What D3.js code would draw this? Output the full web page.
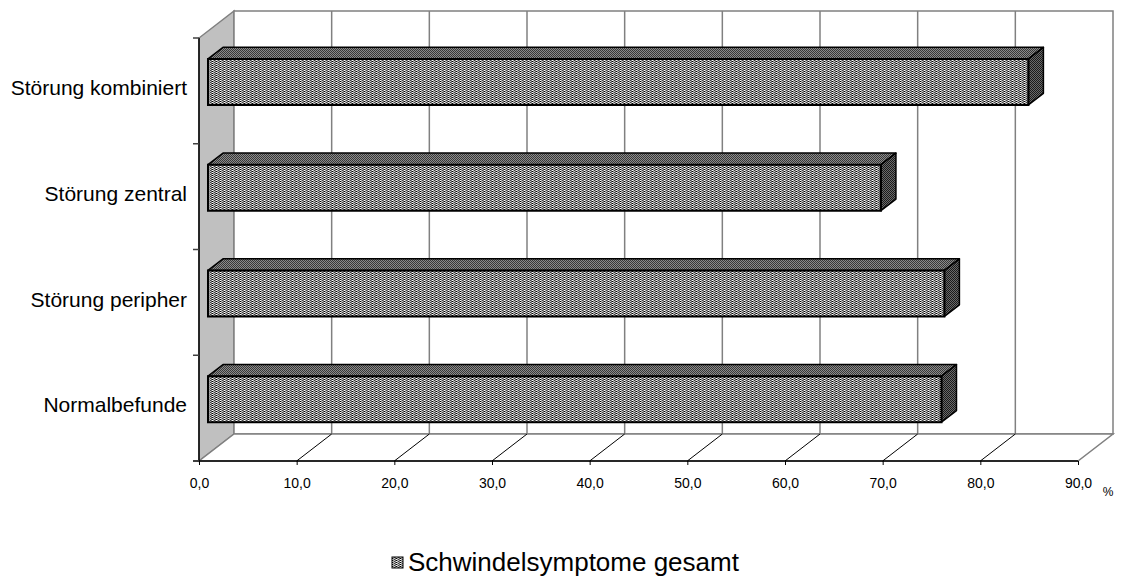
<!DOCTYPE html>
<html>
<head>
<meta charset="utf-8">
<script src="https://cdn.jsdelivr.net/npm/d3@7"></script>
<style>
  html, body { margin: 0; padding: 0; background: #fff; }
  svg { display: block; font-family: "Liberation Sans", Arial, sans-serif; }
</style>
</head>
<body>
<svg id="chart" width="1121" height="581"></svg>
<script>
// Data
const categories = ["Störung kombiniert", "Störung zentral", "Störung peripher", "Normalbefunde"];
const values = [84.0, 68.9, 75.4, 75.1];
const tickValues = [0, 10, 20, 30, 40, 50, 60, 70, 80, 90];
const tickLabels = ["0,0", "10,0", "20,0", "30,0", "40,0", "50,0", "60,0", "70,0", "80,0", "90,0"];
const seriesName = "Schwindelsymptome gesamt";
const unitLabel = "%";

const svg = d3.select("#chart");

// Front plane scales; depth is applied as an oblique offset
const x = d3.scaleLinear().domain([0, 90]).range([199, 1078]);
const y = d3.scaleBand().domain(categories).range([38, 461]).padding(0);
const DX = 35, DY = -27;            // full depth offset
const Z0 = 0.257, Z1 = 0.686;       // bar depth span
const P = (v, yy, z) => [x(v) + z * DX, yy + z * DY];

const gridGrey = "#808080";

// Fill patterns for the bar faces
const defs = svg.append("defs");
function pattern(id, w, h, bg, pixels) {
  const p = defs.append("pattern").attr("id", id).attr("patternUnits", "userSpaceOnUse")
    .attr("width", w).attr("height", h);
  p.append("rect").attr("width", w).attr("height", h).attr("fill", bg);
  pixels.forEach(([px, py, c]) => p.append("rect").attr("x", px).attr("y", py)
    .attr("width", 1).attr("height", 1).attr("fill", c));
}
pattern("front", 4, 2, "#8c8c8c", [[0, 0, "#ffffff"], [0, 1, "#000000"], [2, 0, "#404040"], [2, 1, "#c8c8c8"], [1, 0, "#a8a8a8"], [3, 1, "#606060"]]);
pattern("top", 2, 2, "#8a8a8a", [[0, 0, "#383838"], [1, 1, "#383838"]]);
pattern("side", 2, 2, "#6a6a6a", [[0, 0, "#1a1a1a"], [1, 1, "#1a1a1a"]]);

const line = d3.line();

// Side wall
svg.append("path")
  .attr("d", line([P(0, 38, 0), P(0, 461, 0), P(0, 461, 1), P(0, 38, 1)]) + "Z")
  .attr("fill", "#c0c0c0").attr("stroke", gridGrey).attr("stroke-width", 1.5);

// Back wall
svg.append("path")
  .attr("d", line([P(0, 38, 1), P(90, 38, 1), P(90, 461, 1), P(0, 461, 1)]) + "Z")
  .attr("fill", "#ffffff").attr("stroke", gridGrey).attr("stroke-width", 1.5);

// Floor
svg.append("path")
  .attr("d", line([P(0, 461, 0), P(90, 461, 0), P(90, 461, 1), P(0, 461, 1)]) + "Z")
  .attr("fill", "#ffffff").attr("stroke", gridGrey).attr("stroke-width", 1.5);

// Back wall gridlines
svg.append("g").selectAll("line").data(tickValues.slice(1, -1)).join("line")
  .attr("x1", d => P(d, 38, 1)[0]).attr("x2", d => P(d, 461, 1)[0])
  .attr("y1", d => P(d, 38, 1)[1]).attr("y2", d => P(d, 461, 1)[1])
  .attr("stroke", gridGrey).attr("stroke-width", 1.5);

// Floor gridlines
svg.append("g").selectAll("line").data(tickValues.slice(1, -1)).join("line")
  .attr("x1", d => P(d, 461, 0)[0]).attr("x2", d => P(d, 461, 1)[0])
  .attr("y1", d => P(d, 461, 0)[1]).attr("y2", d => P(d, 461, 1)[1])
  .attr("stroke", "#000").attr("stroke-width", 1);

// Bars
const barH = y.step() * 0.435;
const bars = svg.append("g").selectAll("g").data(categories).join("g");
bars.each(function (c, i) {
  const g = d3.select(this);
  const v = values[i];
  const cy = y(c) + y.bandwidth() / 2 - 2;
  const t = cy - barH / 2, b = cy + barH / 2;
  g.append("path")
    .attr("d", line([P(0, t, Z0), P(v, t, Z0), P(v, t, Z1), P(0, t, Z1)]) + "Z")
    .attr("fill", "url(#top)").attr("stroke", "#000").attr("stroke-width", 1.5).attr("stroke-linejoin", "round");
  g.append("path")
    .attr("d", line([P(v, t, Z0), P(v, b, Z0), P(v, b, Z1), P(v, t, Z1)]) + "Z")
    .attr("fill", "url(#side)").attr("stroke", "#000").attr("stroke-width", 1.5).attr("stroke-linejoin", "round");
  g.append("path")
    .attr("d", line([P(0, t, Z0), P(v, t, Z0), P(v, b, Z0), P(0, b, Z0)]) + "Z")
    .attr("fill", "url(#front)").attr("stroke", "#000").attr("stroke-width", 2);
});

// Value axis along the front edge of the floor
const xAxis = d3.axisBottom(x).tickValues(tickValues).tickSize(4)
  .tickFormat((d, i) => tickLabels[i]);
const gx = svg.append("g").attr("transform", "translate(0,461)").call(xAxis);
gx.select(".domain").attr("stroke", "#000").attr("stroke-width", 1.5).attr("d", "M193,0H1078");
gx.selectAll(".tick line").attr("stroke", "#000");
gx.selectAll(".tick text").attr("font-size", 14).attr("fill", "#000").attr("y", 27).attr("dy", 0)
  .attr("font-family", "Liberation Sans, Arial, sans-serif");

svg.append("text").attr("x", 1108).attr("y", 496).attr("text-anchor", "middle")
  .attr("font-size", 12).text(unitLabel);

// Category axis on the front edge of the side wall
const yAxis = d3.axisLeft(y).tickSize(0).tickPadding(12);
const gy = svg.append("g").attr("transform", "translate(199,0)").call(yAxis);
gy.select(".domain").attr("stroke", "#000").attr("stroke-width", 1.5).attr("d", "M0,38V461");
gy.selectAll(".tick text").attr("font-size", 21).attr("fill", "#000").attr("dy", "0.32em")
  .attr("transform", "translate(0,-2.5)")
  .attr("font-family", "Liberation Sans, Arial, sans-serif");
// Category separators
const sepY = categories.map(c => y(c)).concat([461]);
svg.append("g").selectAll("line").data(sepY).join("line")
  .attr("x1", 193).attr("x2", 199).attr("y1", d => d).attr("y2", d => d)
  .attr("stroke", "#404040").attr("stroke-width", 1.5);

// Legend
const lg = svg.append("g").attr("transform", "translate(392,557)");
lg.append("rect").attr("width", 11).attr("height", 11).attr("fill", "url(#front)")
  .attr("stroke", "#000").attr("stroke-width", 1);
lg.append("text").attr("x", 16).attr("y", 14).attr("font-size", 26).text(seriesName);
</script>
</body>
</html>
